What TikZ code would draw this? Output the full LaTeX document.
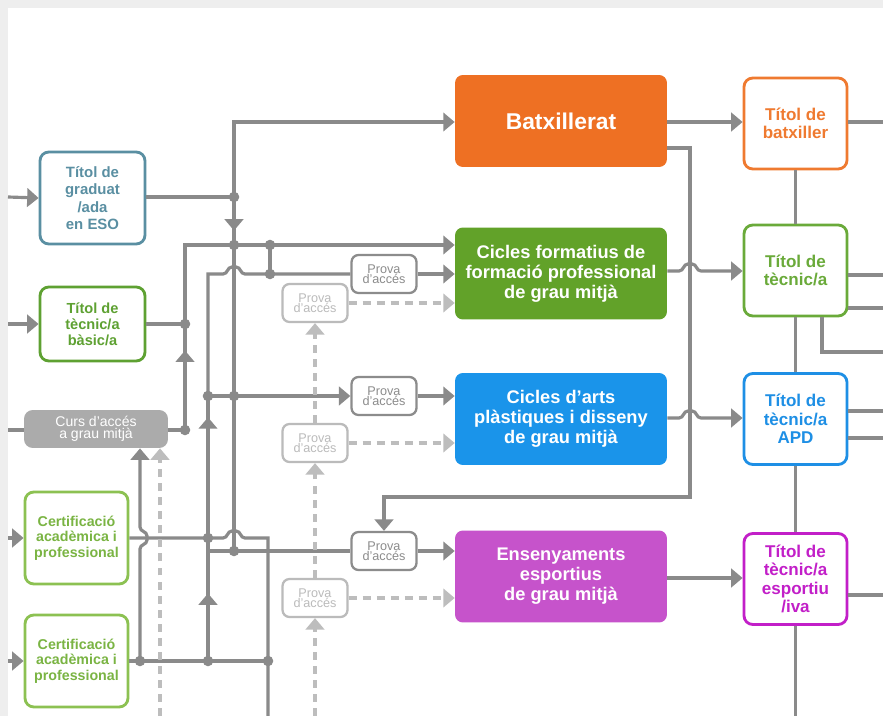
\documentclass[tikz,border=0pt]{standalone}
\usepackage{fontspec}
\setmainfont{Liberation Sans}
\usetikzlibrary{arrows.meta,decorations.markings}

\definecolor{bggray}{HTML}{EEEEEE}
\definecolor{linegray}{HTML}{8A8A8A}
\definecolor{lightgray2}{HTML}{BDBDBD}
\definecolor{batxcol}{HTML}{EE7023}
\definecolor{cfcol}{HTML}{62A229}
\definecolor{artscol}{HTML}{1A94EA}
\definecolor{espcol}{HTML}{C653CB}
\definecolor{esocol}{HTML}{5A8FA2}
\definecolor{basiccol}{HTML}{5EA132}
\definecolor{certcol}{HTML}{8CC152}
\definecolor{certtext}{HTML}{7AB443}
\definecolor{tbatxcol}{HTML}{EF7A30}
\definecolor{tteccol}{HTML}{6AAA3A}
\definecolor{tapdcol}{HTML}{1E8FE5}
\definecolor{tespcol}{HTML}{C21FC8}
\definecolor{curscol}{HTML}{ABABAB}
\definecolor{provacol}{HTML}{8C8C8C}
\definecolor{provalight}{HTML}{BBBBBB}

% hop of a horizontal line over a vertical one
\newcommand{\hopx}[2]{-- (#1-11,#2) .. controls (#1-6,#2) and (#1-7,#2-7) .. (#1-2,#2-7)
  -- (#1+2,#2-7) .. controls (#1+7,#2-7) and (#1+6,#2) .. (#1+11,#2)}
% hop of an upward line over a horizontal one
\newcommand{\hopy}[2]{-- (#1,#2+11) .. controls (#1,#2+6) and (#1+7,#2+7) .. (#1+7,#2+2)
  -- (#1+7,#2-2) .. controls (#1+7,#2-7) and (#1,#2-6) .. (#1,#2-11)}

\begin{document}
\begin{tikzpicture}[x=0.02cm, y=-0.02cm]
    \tikzset{conn/.style={color=linegray, line width=1.8pt},
      conarr/.style={conn, -{Triangle[length=6.5pt,width=10.5pt]}},
      dashline/.style={color=lightgray2, line width=1.8pt, dash pattern=on 4.5pt off 3.5pt},
      dasharr/.style={dashline, -{Triangle[length=6.5pt,width=10.5pt]}},
      midarr/.style={postaction={decorate}, decoration={markings,
          mark=at position #1 with {\arrow{Triangle[length=6.5pt,width=10.5pt]}}}},
      midbox/.style={rectangle, rounded corners=4.5pt, minimum width=4.24cm, minimum height=1.84cm,
          inner sep=1pt, align=center, text=white, font=\bfseries\fontsize{10.4}{11.4}\selectfont},
      titbox/.style={rectangle, rounded corners=5pt, draw, line width=1.6pt, fill=white,
          minimum width=2.06cm, minimum height=1.82cm, inner sep=1pt, align=center,
          font=\bfseries\fontsize{9.7}{10.5}\selectfont},
      leftbox/.style={rectangle, rounded corners=5pt, draw, line width=1.6pt, fill=white,
          minimum width=2.1cm, inner sep=1pt, align=center},
      provabox/.style={rectangle, rounded corners=4pt, draw, line width=1.3pt, fill=white,
          minimum width=1.3cm, minimum height=0.76cm, inner sep=1pt, align=center,
          font=\fontsize{7.2}{5.9}\selectfont}};

    % Background
    \fill[bggray] (0,0) rectangle (883,716);
    \fill[white] (8,8) rectangle (883,716);
    \useasboundingbox (0,0) rectangle (883,716);

    % Left column
    \node[leftbox, draw=esocol, text=esocol, minimum height=1.84cm,
      font=\bfseries\fontsize{8.5}{10}\selectfont] (eso) at (92.5,198) {Títol de\\graduat\\/ada\\en ESO};
    \node[leftbox, draw=basiccol, text=basiccol, minimum height=1.48cm,
      font=\bfseries\fontsize{8.3}{9.2}\selectfont] (basic) at (92.5,324) {Títol de\\tècnic/a\\bàsic/a};
    \node[rectangle, rounded corners=5pt, fill=curscol, text=white, minimum width=2.88cm,
      minimum height=0.76cm, inner sep=1pt, align=center,
      font=\fontsize{8}{7}\selectfont] (curs) at (96,429) {Curs d'accés\\a grau mitjà};
    \node[leftbox, draw=certcol, text=certtext, minimum width=2.06cm, minimum height=1.84cm,
      font=\bfseries\fontsize{8.1}{8.8}\selectfont] (cert1) at (76.5,538) {Certificació\\acadèmica i\\professional};
    \node[leftbox, draw=certcol, text=certtext, minimum width=2.06cm, minimum height=1.84cm,
      font=\bfseries\fontsize{8.1}{8.8}\selectfont] (cert2) at (76.5,661) {Certificació\\acadèmica i\\professional};

    % Middle column
    \node[midbox, fill=batxcol, font=\bfseries\fontsize{13}{14}\selectfont] (batx) at (561,121) {Batxillerat};
    \node[midbox, fill=cfcol] (cf) at (561,273.5) {Cicles formatius de\\formació professional\\de grau mitjà};
    \node[midbox, fill=artscol] (arts) at (561,419) {Cicles d’arts\\plàstiques i disseny\\de grau mitjà};
    \node[midbox, fill=espcol] (esp) at (561,576.5) {Ensenyaments\\esportius\\de grau mitjà};

    % Right column
    \node[titbox, draw=tbatxcol, text=tbatxcol] (tbatx) at (795.5,123.5) {Títol de\\batxiller};
    \node[titbox, draw=tteccol, text=tteccol] (ttec) at (795.5,270.5) {Títol de\\tècnic/a};
    \node[titbox, draw=tapdcol, text=tapdcol] (tapd) at (795.5,419) {Títol de\\tècnic/a\\APD};
    \node[titbox, draw=tespcol, text=tespcol] (tesp) at (795.5,579) {Títol de\\tècnic/a\\esportiu\\/iva};

    % Access tests
    \node[provabox, draw=provacol, text=provacol] (p1) at (384,274) {Prova\\d'accés};
    \node[provabox, draw=provalight, text=provalight] (p2) at (315,303) {Prova\\d'accés};
    \node[provabox, draw=provacol, text=provacol] (p3) at (384,396) {Prova\\d'accés};
    \node[provabox, draw=provalight, text=provalight] (p4) at (315,443) {Prova\\d'accés};
    \node[provabox, draw=provacol, text=provacol] (p5) at (384,551) {Prova\\d'accés};
    \node[provabox, draw=provalight, text=provalight] (p6) at (315,598) {Prova\\d'accés};

    % Junctions
    \path (234,122) coordinate (a0);
    \path (234,197) coordinate (a1);
    \path (234,245) coordinate (a2);
    \path (234,396) coordinate (a4);
    \path (234,551) coordinate (a6);
    \path (185,245) coordinate (b0);
    \path (185,324) coordinate (b1);
    \path (185,430) coordinate (b2);
    \path (208,274) coordinate (c0);
    \path (208,396) coordinate (c1);
    \path (208,538) coordinate (c2);
    \path (208,551) coordinate (c2b);
    \path (208,661) coordinate (c3);
    \path (270,245) coordinate (d0);
    \path (270,274) coordinate (d1);
    \path (268,538) coordinate (g0);
    \path (268,661) coordinate (g1);
    \path (140,661) coordinate (h0);
    \path (690,148) coordinate (k0);
    \path (690,497) coordinate (k1);
    \path (384,497) coordinate (k2);
    \path (690,271) coordinate (q1);
    \path (690,418) coordinate (q2);
    \path (700,578) coordinate (q3);
    \path (822,352) coordinate (r1);

    % Free ends at the margins
    \path (8,197) coordinate (l1);
    \path (8,324) coordinate (l2);
    \path (8,430) coordinate (l3);
    \path (8,538) coordinate (l4);
    \path (8,661) coordinate (l5);
    \path (268,716) coordinate (g2);
    \path (160,716) coordinate (i0);
    \path (315,716) coordinate (s0);
    \path (795.5,716) coordinate (r0);
    \path (883,122) coordinate (e1);
    \path (883,275) coordinate (e2);
    \path (883,308) coordinate (e3);
    \path (883,352) coordinate (e4);
    \path (883,411) coordinate (e5);
    \path (883,438) coordinate (e6);
    \path (883,595) coordinate (e7);

    % Edges into the left column
    \foreach \i/\j in {l1/eso, l2/basic, l4/cert1, l5/cert2} { \draw[conarr] (\i) -- (\j.west); }
    \draw[conn] (l3) -- (curs.west |- l3);

    % Edges of the left network
    \draw[conn] (eso.east |- a1) -- (a1);
    \draw[conarr] (a1) -- (a0) -- (batx.west |- a0);
    \draw[conn, midarr=0.7] (a1) -- (a2);
    \draw[conn] (a2) -- (a6);
    \draw[conn] (basic.east) -- (b1);
    \draw[conn] (curs.east |- b2) -- (b2);
    \draw[conn, midarr=0.75] (b2) -- (b1);
    \draw[conarr] (b1) -- (b0) -- (cf.west |- b0);
    \draw[conn] (d0) -- (d1);
    \draw[conn] (c1) -- (c0) \hopx{234}{274} -- (d1) -- (p1.west);
    \draw[conn, midarr=0.55] (c3) -- (c2);
    \draw[conn, midarr=0.85] (c2) -- (c1);
    \draw[conarr] (c1) -- (p3.west);
    \draw[conn] (c2b) -- (p5.west);
    \draw[conn] (cert1.east) -- (c2) \hopx{234}{538} -- (g0) -- (g2);
    \draw[conn] (cert2.east) -- (g1);
    \draw[conarr] (h0) \hopy{140}{538} -- (curs.south -| h0);
    \draw[dasharr] (i0) -- (curs.south -| i0);

    % Access tests
    \foreach \i/\j in {s0/p6, p6/p4, p4/p2} { \draw[dasharr] (\i.north) -- (\j.south); }
    \foreach \i/\j in {p1/cf, p3/arts, p5/esp} { \draw[conarr] (\i.east) -- (\j.west |- \i.east); }
    \foreach \i/\j in {p2/cf, p4/arts, p6/esp} { \draw[dasharr] (\i.east) -- (\j.west |- \i.east); }

    % Edges to the right column
    \draw[conarr] (batx.east |- a0) -- (tbatx.west |- a0);
    \draw[conarr] (batx.east |- k0) -- (k0) -- (k1) -- (k2) -- (p5.north);
    \draw[conarr] (cf.east |- q1) \hopx{690}{271} -- (ttec.west |- q1);
    \draw[conarr] (arts.east |- q2) \hopx{690}{418} -- (tapd.west |- q2);
    \draw[conarr] (esp.east |- q3) -- (tesp.west |- q3);
    \foreach \i/\j in {tbatx/ttec, ttec/tapd, tapd/tesp} { \draw[conn] (\i.south) -- (\j.north); }
    \draw[conn] (tesp.south) -- (r0);

    % Edges out to the right
    \draw[conn] (tbatx.east |- e1) -- (e1);
    \foreach \i/\j in {ttec/e2, ttec/e3, tapd/e5, tapd/e6, tesp/e7} { \draw[conn] (\i.east |- \j) -- (\j); }
    \draw[conn] (ttec.south -| r1) -- (r1) -- (e4);

    % Dots
    \foreach \i in {a1, a2, a4, a6, b1, b2, c1, c2, c3, d0, d1, g1, h0} { \fill[linegray] (\i) circle (3pt); }
  \end{tikzpicture}
\end{document}
